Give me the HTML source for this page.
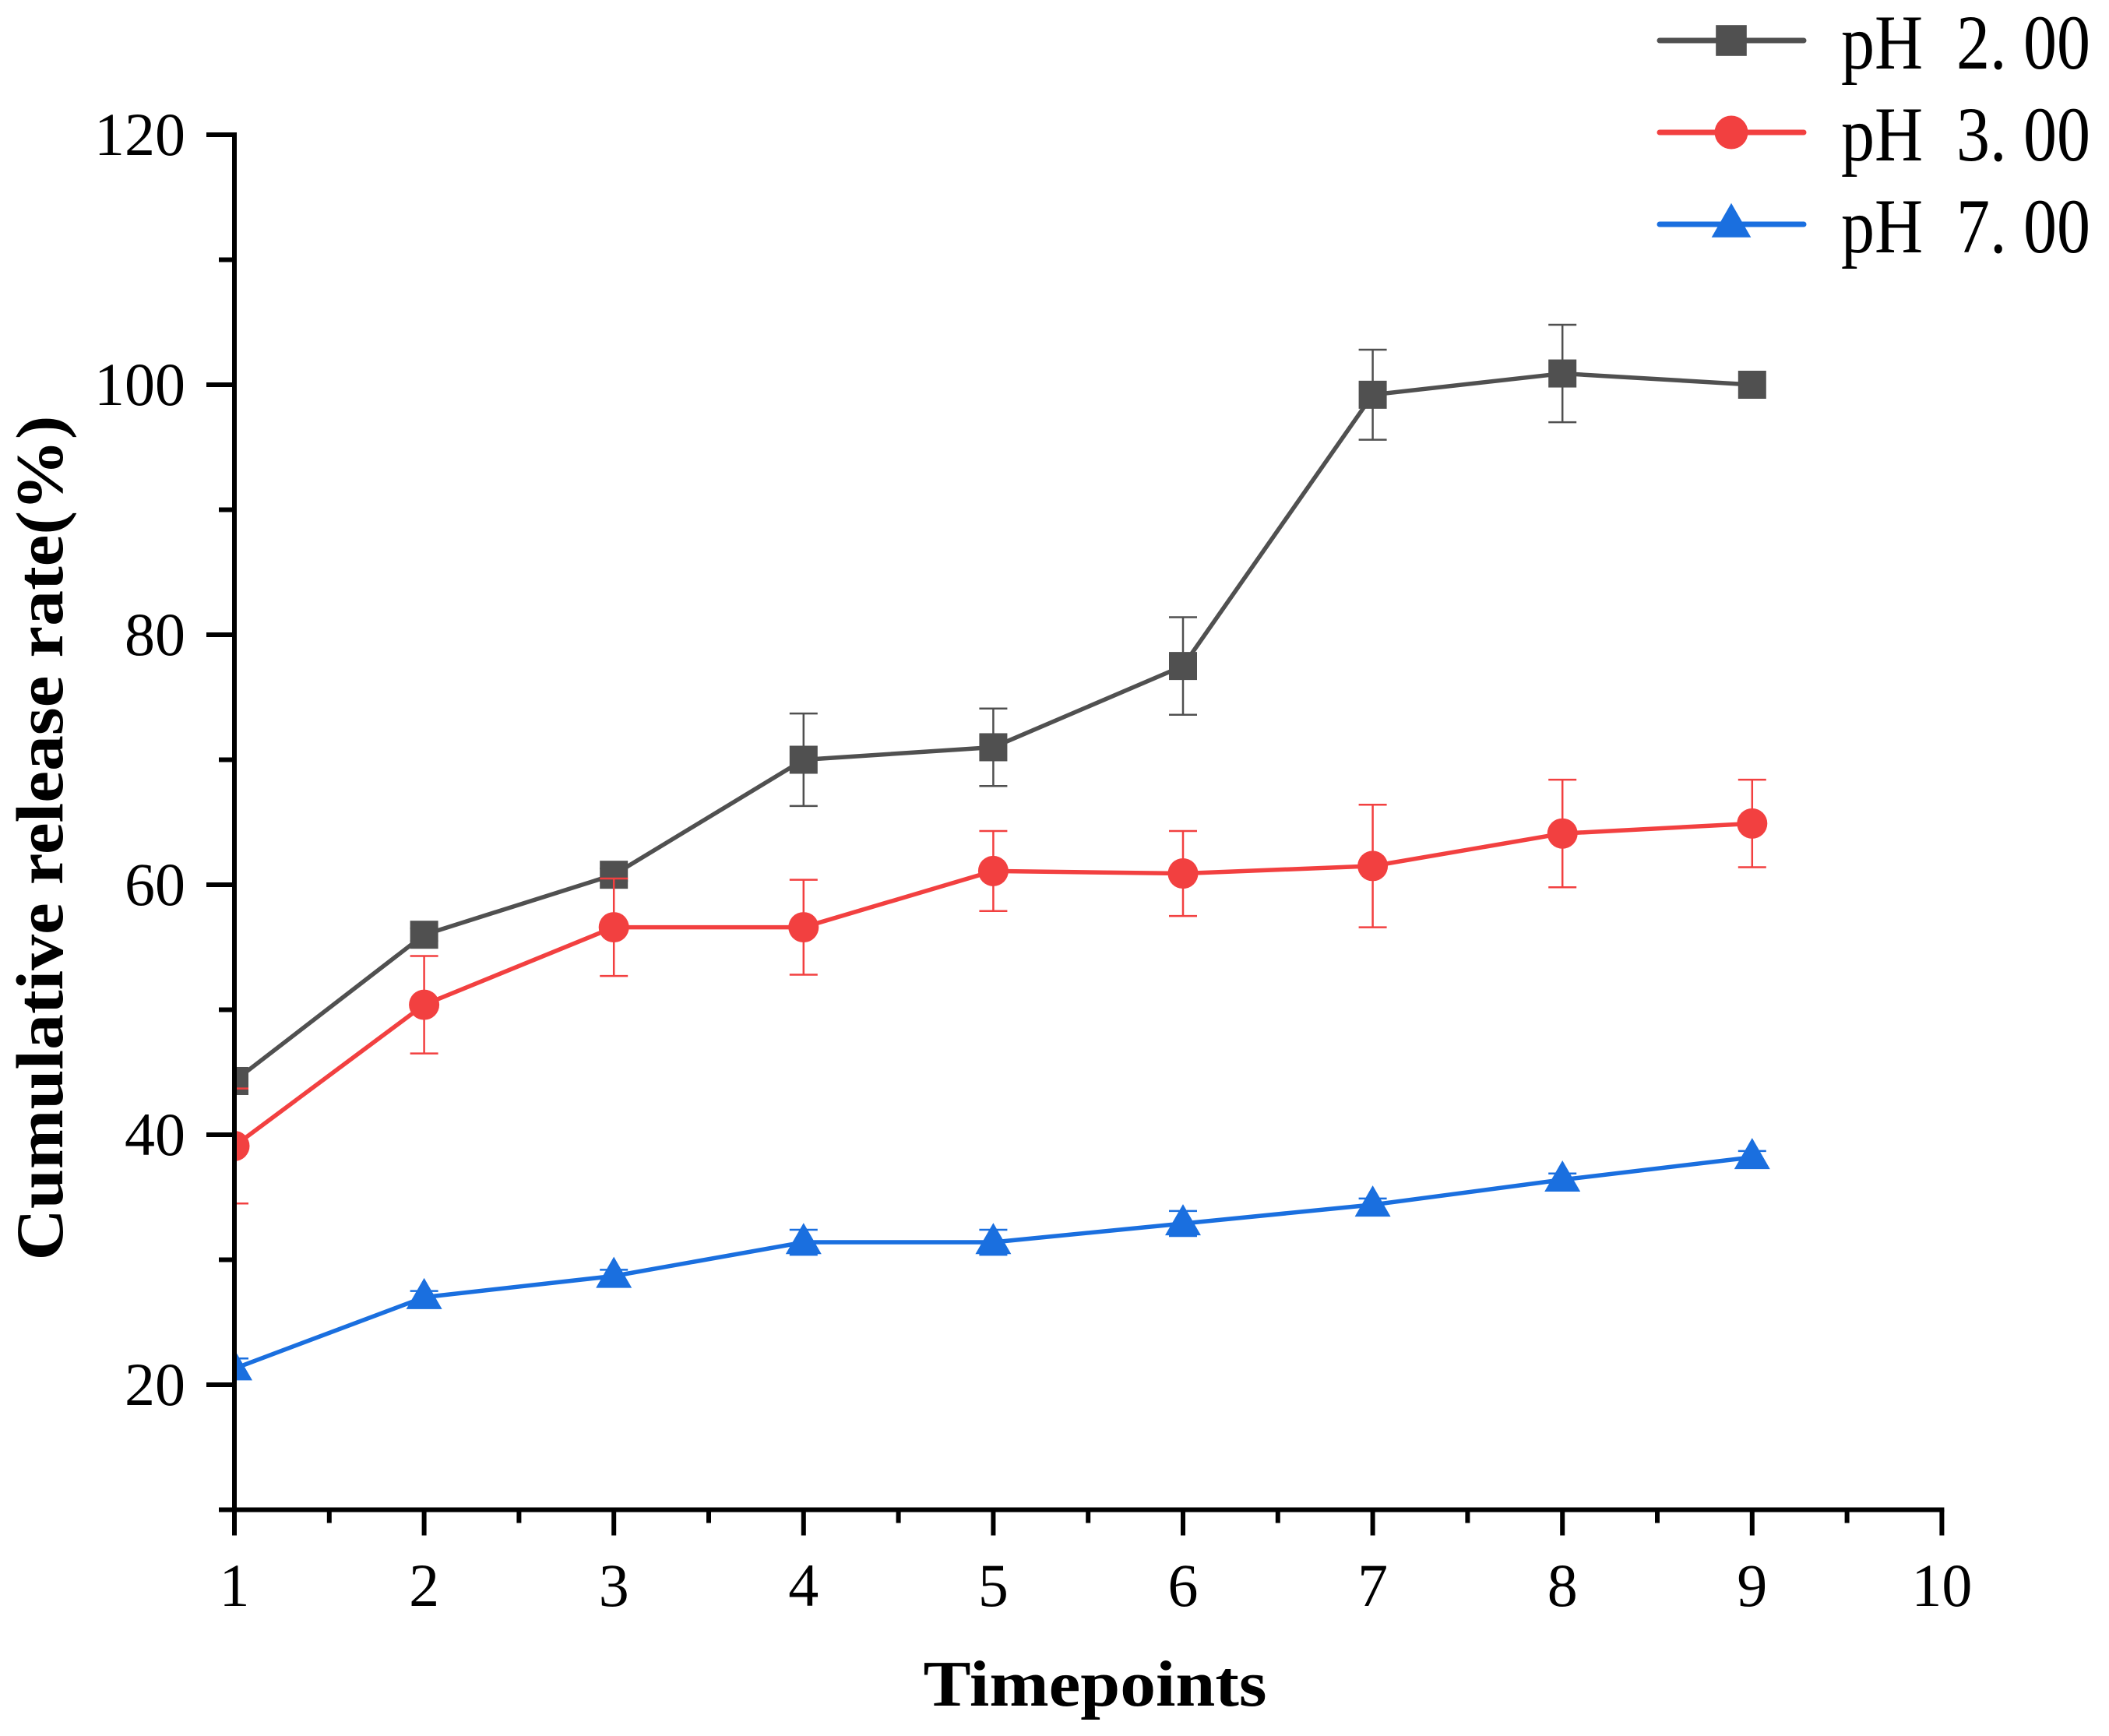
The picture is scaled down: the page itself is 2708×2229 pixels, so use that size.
<!DOCTYPE html>
<html><head><meta charset="utf-8"><style>
html,body{margin:0;padding:0;background:#fff}
svg{display:block}
</style></head><body>
<svg id="chart" xmlns="http://www.w3.org/2000/svg" width="2708" height="2229" viewBox="0 0 2708 2229">
<defs><clipPath id="plotClip"><rect x="301" y="100" width="2300" height="1838"/></clipPath></defs>
<g id="series" clip-path="url(#plotClip)"></g>
<g id="axes"></g>
<g id="legend"></g>
<text transform="translate(80,1076) rotate(-90)" text-anchor="middle" font-family="Liberation Serif, serif" font-weight="bold" font-size="86" textLength="1085" lengthAdjust="spacingAndGlyphs">Cumulative release rate(%)</text>
<text x="1406" y="2190" text-anchor="middle" font-family="Liberation Serif, serif" font-weight="bold" font-size="84" textLength="441" lengthAdjust="spacingAndGlyphs">Timepoints</text>
</svg>
<script>
const timepoints = [1,2,3,4,5,6,7,8,9];
const ph2Values = [44.3,56.0,60.8,70.0,71.0,77.5,99.2,100.9,100.0];
const ph2Errors = [0.5,0.5,0.5,3.7,3.1,3.9,3.6,3.9,0];
const ph3Values = [39.1,50.4,56.6,56.6,61.1,60.9,61.5,64.1,64.9];
const ph3Errors = [4.6,3.9,3.9,3.8,3.2,3.4,4.9,4.3,3.5];
const ph7Values = [21.3,27.0,28.7,31.4,31.4,32.9,34.4,36.4,38.2];
const ph7Errors = [0.8,0.5,0.5,1.0,1.0,1.0,0.5,0.5,0.5];
const xTicks = [1,2,3,4,5,6,7,8,9,10];
const yTicks = [20,40,60,80,100,120];
const seriesNames = ['pH\u00a0 2.\u00a000','pH\u00a0 3.\u00a000','pH\u00a0 7.\u00a000'];

const NS='http://www.w3.org/2000/svg';
const X0=301, XU=243.6, Y10=1938.5, YU=16.05;
function xs(v){return X0+(v-1)*XU;}
function ys(v){return Y10-(v-10)*YU;}
function mk(tag,attrs,parent){const e=document.createElementNS(NS,tag);for(const k in attrs)e.setAttribute(k,attrs[k]);parent.appendChild(e);return e;}

const axes=document.getElementById('axes');
let e;
e=mk('line',{x1:X0,y1:ys(120)-3,x2:X0,y2:Y10+3,stroke:'#000','stroke-width':6},axes);


e=mk('line',{x1:X0-3,y1:Y10,x2:xs(10)+3,y2:Y10,stroke:'#000','stroke-width':6},axes);


yTicks.forEach(t=>{
  e=mk('line',{x1:X0-36,y1:ys(t),x2:X0,y2:ys(t),stroke:'#000','stroke-width':6},axes);
  
  
  e=mk('line',{x1:X0-20,y1:ys(t-10),x2:X0,y2:ys(t-10),stroke:'#000','stroke-width':6},axes);
  
  
  e=mk('text',{x:238,y:ys(t)+26,'text-anchor':'end','font-family':'Liberation Serif, serif','font-size':78},axes);
  e.textContent=t;
  
  
});
xTicks.forEach(t=>{
  e=mk('line',{x1:xs(t),y1:Y10,x2:xs(t),y2:Y10+33,stroke:'#000','stroke-width':6},axes);
  
  
  if(t<10){
    e=mk('line',{x1:xs(t+0.5),y1:Y10,x2:xs(t+0.5),y2:Y10+17,stroke:'#000','stroke-width':6},axes);
    
    
  }
  e=mk('text',{x:xs(t),y:2062,'text-anchor':'middle','font-family':'Liberation Serif, serif','font-size':78},axes);
  e.textContent=t;
  
  
});

function marker(type,cx,cy,color,parent,scale){
  let m;
  if(type==='square'){const s=36*scale;m=mk('rect',{x:cx-s/2,y:cy-s/2,width:s,height:s,fill:color},parent);}
  else if(type==='circle'){m=mk('circle',{cx:cx,cy:cy,r:19.5*scale,fill:color},parent);}
  else {const w=46*scale,h=40*scale;m=mk('polygon',{points:`${cx},${cy-h*0.62} ${cx+w/2},${cy+h*0.38} ${cx-w/2},${cy+h*0.38}`,fill:color},parent);}
  return m;
}

const seriesDefs=[
  {name:'ph2',vals:ph2Values,errs:ph2Errors,color:'#505050',m:'square'},
  {name:'ph3',vals:ph3Values,errs:ph3Errors,color:'#F24040',m:'circle'},
  {name:'ph7',vals:ph7Values,errs:ph7Errors,color:'#1A6FDF',m:'triangle'}
];
const sl=document.getElementById('series');
seriesDefs.forEach(s=>{
  const g=mk('g',{},sl);
  
  
  s.vals.forEach((v,i)=>{
    if(s.errs[i]>0){
      const x=xs(timepoints[i]),yt=ys(v+s.errs[i]),yb=ys(v-s.errs[i]);
      const eg=mk('path',{d:`M${x},${yt}V${yb}M${x-18},${yt}H${x+18}M${x-18},${yb}H${x+18}`,stroke:s.color,'stroke-width':2.5,fill:'none'},g);
      
      
    }
  });
  const pl=mk('polyline',{points:s.vals.map((v,i)=>xs(timepoints[i])+','+ys(v)).join(' '),fill:'none',stroke:s.color,'stroke-width':5.5,'stroke-linejoin':'round'},g);
  
  
  s.vals.forEach((v,i)=>{
    const m=marker(s.m,xs(timepoints[i]),ys(v),s.color,g,1);
    
    
  });
});

const lg=document.getElementById('legend');
const rowsY=[52,170,288];
seriesDefs.forEach((s,i)=>{
  const g=mk('g',{},lg);
  
  
  const ln=mk('line',{x1:2131,y1:rowsY[i],x2:2316,y2:rowsY[i],stroke:s.color,'stroke-width':7,'stroke-linecap':'round'},g);
  
  
  const m=marker(s.m,2223,rowsY[i],s.color,g,1.1);
  
  
  const t=mk('text',{x:2364,y:rowsY[i]+36,'font-family':'Liberation Serif, serif','font-size':100,textLength:320,lengthAdjust:'spacingAndGlyphs'},g);
  t.textContent=seriesNames[i];
  
  
});
</script>
</body></html>
